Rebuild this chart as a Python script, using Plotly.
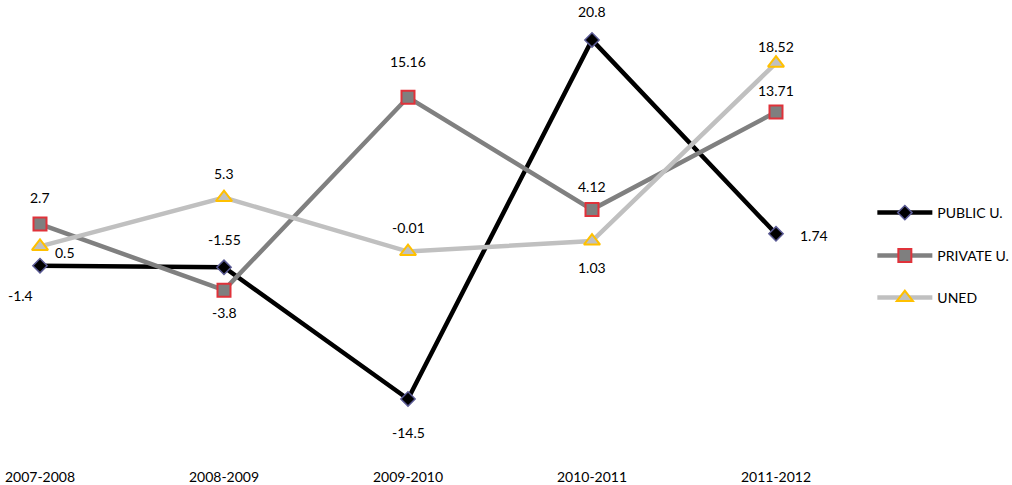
import plotly.graph_objects as go

years = ["2007-2008", "2008-2009", "2009-2010", "2010-2011", "2011-2012"]
public_u = [-1.4, -1.55, -14.5, 20.8, 1.74]
private_u = [2.7, -3.8, 15.16, 4.12, 13.71]
uned = [0.5, 5.3, -0.01, 1.03, 18.52]

# label offsets in px (xshift, yshift) per point
pub_off = [(-20, -30), (0, 28), (0, -34), (0, 28), (38, -2)]
priv_off = [(0, 27), (0, -22), (0, 36), (0, 23), (0, 22)]
uned_off = [(25, -6), (0, 24), (0, 24), (0, -26), (0, 17)]

xs = list(range(len(years)))

fig = go.Figure()

series = [
    ("PUBLIC U.", public_u, "#000000", dict(symbol="diamond", size=11, color="#000000",
                                           line=dict(color="#5a5a94", width=1.5)), "legend"),
    ("PRIVATE U.", private_u, "#808080", dict(symbol="square", size=13, color="#7f7f7f",
                                             line=dict(color="#e0323a", width=2)), "legend2"),
    ("UNED", uned, "#c0c0c0", dict(symbol="triangle-up", size=14, color="#c0c0c0",
                                   line=dict(color="#ffc000", width=2)), "legend3"),
]

for name, vals, col, mk, lg in series:
    fig.add_trace(go.Scatter(x=xs, y=vals, name=name, mode="lines+markers",
                             line=dict(color=col, width=4.5), marker=mk, legend=lg))

for vals, offs in [(public_u, pub_off), (private_u, priv_off), (uned, uned_off)]:
    for i, v in enumerate(vals):
        fig.add_annotation(x=xs[i], y=v, text=str(v), showarrow=False,
                           xshift=offs[i][0], yshift=offs[i][1],
                           font=dict(family="Lato, Open Sans", size=14, color="#000000"))

lg_style = dict(xref="container", yref="container", xanchor="left", yanchor="middle",
                bgcolor="rgba(0,0,0,0)", itemwidth=55,
                font=dict(family="Lato, Open Sans", size=14, color="#000000"))

fig.update_layout(
    width=1012, height=485,
    margin=dict(l=0, r=162, t=5, b=23),
    plot_bgcolor="white", paper_bgcolor="white",
    showlegend=True,
    legend=dict(x=0.862, y=1 - 213 / 485, **lg_style),
    legend2=dict(x=0.862, y=1 - 256 / 485, **lg_style),
    legend3=dict(x=0.862, y=1 - 298 / 485, **lg_style),
    xaxis=dict(range=[-40 / 184, 810 / 184], tickvals=xs, ticktext=years,
               showgrid=False, zeroline=False, showline=False, ticks="",
               ticklabelstandoff=5,
               tickfont=dict(family="Lato, Open Sans", size=14, color="#000000")),
    yaxis=dict(range=[-(462 - 251.5) / 10.17, (251.5 - 5) / 10.17],
               showgrid=False, zeroline=False, showline=False, showticklabels=False),
)

fig.write_html("out.html", config={"displayModeBar": False},
               post_script="document.body.style.margin='0';")
